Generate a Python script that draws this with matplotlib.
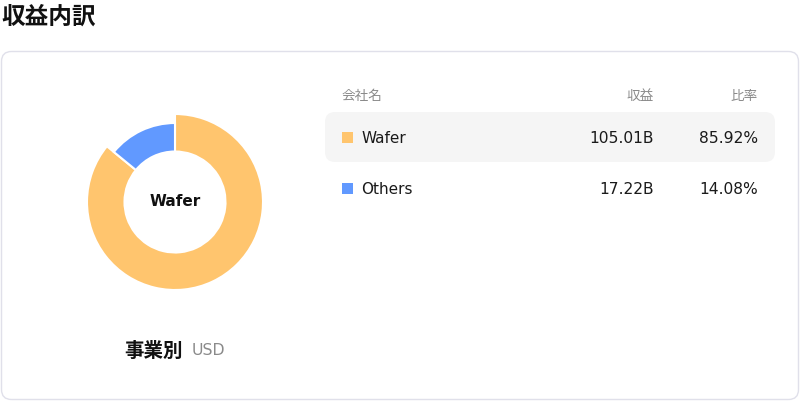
import matplotlib
matplotlib.use("Agg")
import matplotlib.pyplot as plt
from matplotlib.patches import FancyBboxPatch, Rectangle

# ---- data ----
title = "収益内訳"
segments = ["Wafer", "Others"]
revenue_b = [105.01, 17.22]
share_pct = [85.92, 14.08]
header_labels = ["会社名", "収益", "比率"]
chart_label = "事業別"
currency = "USD"
highlight = "Wafer"

colors = ["#FFC56E", "#6199FF"]
W, H = 800, 402
JP = ["Noto Sans CJK JP", "DejaVu Sans"]
plt.rcParams["font.family"] = ["DejaVu Sans", "Noto Sans CJK JP"]

fig = plt.figure(figsize=(W / 100, H / 100), dpi=100)
fig.patch.set_facecolor("white")
ax = fig.add_axes([0, 0, 1, 1])
ax.set_xlim(0, W)
ax.set_ylim(H, 0)
ax.axis("off")

# title
ax.text(1, 17, title, fontsize=17, fontweight="bold", family=JP,
        ha="left", va="center", color="#111111")

# card
card = FancyBboxPatch((1.5, 52.5), 797, 348, boxstyle="round,pad=0,rounding_size=10",
                      facecolor="white", edgecolor="#E0E0EA", linewidth=1)
ax.add_patch(card)

# header
hy = 96
ax.text(342, hy, header_labels[0], fontsize=9.8, family=JP, color="#8A8A8A", ha="left", va="center")
ax.text(654, hy, header_labels[1], fontsize=9.8, family=JP, color="#8A8A8A", ha="right", va="center")
ax.text(758, hy, header_labels[2], fontsize=9.8, family=JP, color="#8A8A8A", ha="right", va="center")

# rows
row_y = [138, 189]
for i, (name, rev, pct) in enumerate(zip(segments, revenue_b, share_pct)):
    y = row_y[i]
    if name == highlight:
        ax.add_patch(FancyBboxPatch((325, y - 25), 450, 50,
                                    boxstyle="round,pad=0,rounding_size=10",
                                    facecolor="#F5F5F5", edgecolor="none"))
    ax.add_patch(Rectangle((342, y - 5.5), 11, 11, facecolor=colors[i], edgecolor="none"))
    ax.text(361, y + 1, name, fontsize=11, color="#1A1A1A", ha="left", va="center")
    ax.text(654, y + 1, f"{rev:.2f}B", fontsize=11.2, color="#1A1A1A", ha="right", va="center")
    ax.text(758, y + 1, f"{pct:.2f}%", fontsize=11.2, color="#1A1A1A", ha="right", va="center")

# bottom label
ax.text(183, 351, chart_label, fontsize=14, fontweight="bold", family=JP,
        color="#111111", ha="right", va="center")
ax.text(192, 351, currency, fontsize=11.3, color="#8A8A8A", ha="left", va="center")

# donut
cx, cy, r = 175, 203, 79.0
size = 220
pax = fig.add_axes([(cx - size / 2) / W, (H - cy - size / 2) / H, size / W, size / H])
pax.set_aspect("equal")
pax.axis("off")
inner = 50.5 / r
wedges, _ = pax.pie(revenue_b, colors=colors, startangle=90, counterclock=False,
                    radius=1.0, wedgeprops=dict(width=1 - inner, edgecolor="white", linewidth=1.5))
for wdg, name in zip(wedges, segments):
    if name == highlight:
        big = 88.0 / r
        wdg.set_radius(big)
        wdg.set_width(big - inner)
pax.set_xlim(-size / 2 / r, size / 2 / r)
pax.set_ylim(-size / 2 / r, size / 2 / r)
pax.text(0, 1.0 / r, highlight, fontsize=11, fontweight="bold", ha="center", va="center", color="#111111")

fig.savefig("out.png", dpi=100, facecolor="white")
